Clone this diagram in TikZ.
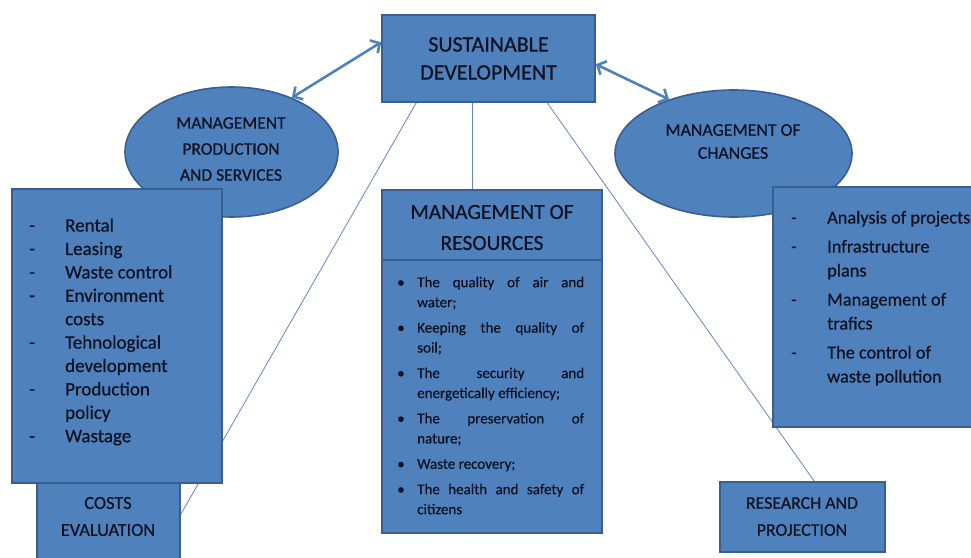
\documentclass[tikz,border=0pt]{standalone}
\usepackage{fontspec}
\setmainfont{Carlito}[FakeBold=0.5]
\usetikzlibrary{arrows.meta,shapes.geometric,calc}
\definecolor{boxfill}{RGB}{79,129,189}
\definecolor{boxline}{RGB}{58,95,143}
\definecolor{ink}{RGB}{14,18,34}
\definecolor{linkline}{RGB}{100,135,190}
\begin{document}
\begin{tikzpicture}[x=1pt,y=-1pt,
  blk/.style={draw=boxline,fill=boxfill,line width=1.6pt,inner sep=0pt},
  rect/.style={blk,rectangle},
  oval/.style={blk,ellipse},
  lbl/.style={text=ink,align=center,inner sep=0pt},
  listtext/.style={text=ink,inner sep=0pt,anchor=north west},
  link/.style={draw=linkline,line width=0.8pt},
  dbl/.style={draw=boxfill,line width=2.6pt,
    {Straight Barb[length=7pt,width=15pt]}-{Straight Barb[length=7pt,width=15pt]}}]
\useasboundingbox (0,0) rectangle (971,557);
\clip (0,0) rectangle (971,557);

% central goal
\node[rect,minimum width=213pt,minimum height=87pt,lbl,
      font=\fontsize{22}{28}\selectfont] (sd) at (488.5,58.5)
      {SUSTAINABLE\\DEVELOPMENT};

% boxes that sit behind the connectors' ends
\node[rect,minimum width=143pt,minimum height=108pt] (ce) at (108.5,516) {};
\node[rect,minimum width=165pt,minimum height=70pt] (rp) at (802.5,517) {};

% thin connectors from the goal
\draw[link] ($(sd.south west)+(35,0)$) -- ($(ce.north east)+(0,53)$);
\draw[link] ($(sd.south west)+(166,0)$) -- ($(rp.north west)+(95,0)$);

% ellipses
\node[oval,minimum width=213pt,minimum height=130pt] (mps) at (231.5,152) {};
\node[oval,minimum width=237pt,minimum height=127pt] (mc) at (733.5,153.5) {};

% resources box with header strip
\node[rect,minimum width=220pt,minimum height=343pt] (mr) at (492,361.5) {};
\draw[link] ($(sd.south)+(-16.5,0)$) -- ($(mr.north)+(-20,0)$);
\draw[draw=boxline,line width=1.6pt] ($(mr.north west)+(0,71)$) -- ($(mr.north east)+(0,71)$);

% side boxes
\node[rect,minimum width=210pt,minimum height=294pt] (lb) at (117,336) {};
\node[rect,minimum width=217pt,minimum height=240pt] (rb) at (881.5,307) {};

% double arrows
\draw[dbl] ($(sd.north west)+(0,28)$) -- (mps.42);
\draw[dbl] ($(sd.north east)+(0,50)$) -- (mc.140);

% labels
\node[lbl,font=\fontsize{17.5}{26}\selectfont] (mpsT) at (231,149)
  {MANAGEMENT\\PRODUCTION\\AND SERVICES};
\node[lbl,font=\fontsize{17.8}{23}\selectfont] (mcT) at (733,141.5)
  {MANAGEMENT OF\\CHANGES};
\node[lbl,font=\fontsize{21.5}{31}\selectfont] (mrT) at (492,227.5)
  {MANAGEMENT OF\\RESOURCES};
\node[lbl,font=\fontsize{18.3}{27}\selectfont] (ceT) at (108,516.5)
  {COSTS\\EVALUATION};
\node[lbl,font=\fontsize{17.8}{27}\selectfont] (rpT) at (802,516.5)
  {RESEARCH AND\\PROJECTION};

\node[listtext,font=\fontsize{19}{23.4}\selectfont] (lbT) at (29,215)
  {\begin{tabular}{@{}p{36pt}@{}l@{}}
   - & Rental\\
   - & Leasing\\
   - & Waste control\\
   - & Environment\\
     & costs\\
   - & Tehnological\\
     & development\\
   - & Production\\
     & policy\\
   - & Wastage
   \end{tabular}};

\node[listtext,font=\fontsize{18.3}{24}\selectfont] (rbT) at (791,206.5)
  {\begin{tabular}{@{}p{36pt}@{}l@{}}
   - & Analysis of projects\\[5pt]
   - & Infrastructure\\
     & plans\\[5pt]
   - & Management of\\
     & trafics\\[5pt]
   - & The control of\\
     & waste pollution
   \end{tabular}};

\node[listtext,font=\fontsize{15}{20}\selectfont] (mrL) at (397,273)
  {\begin{tabular}{@{}p{20pt}@{}p{167pt}@{}}
   \textbullet & The quality of air and\linebreak water;\\[5.4pt]
   \textbullet & Keeping the quality of\linebreak soil;\\[5.4pt]
   \textbullet & The security and\linebreak energetically efficiency;\\[5.4pt]
   \textbullet & The preservation of\linebreak nature;\\[5.4pt]
   \textbullet & Waste recovery;\\[5.4pt]
   \textbullet & The health and safety of\linebreak citizens
   \end{tabular}};
\end{tikzpicture}
\end{document}
